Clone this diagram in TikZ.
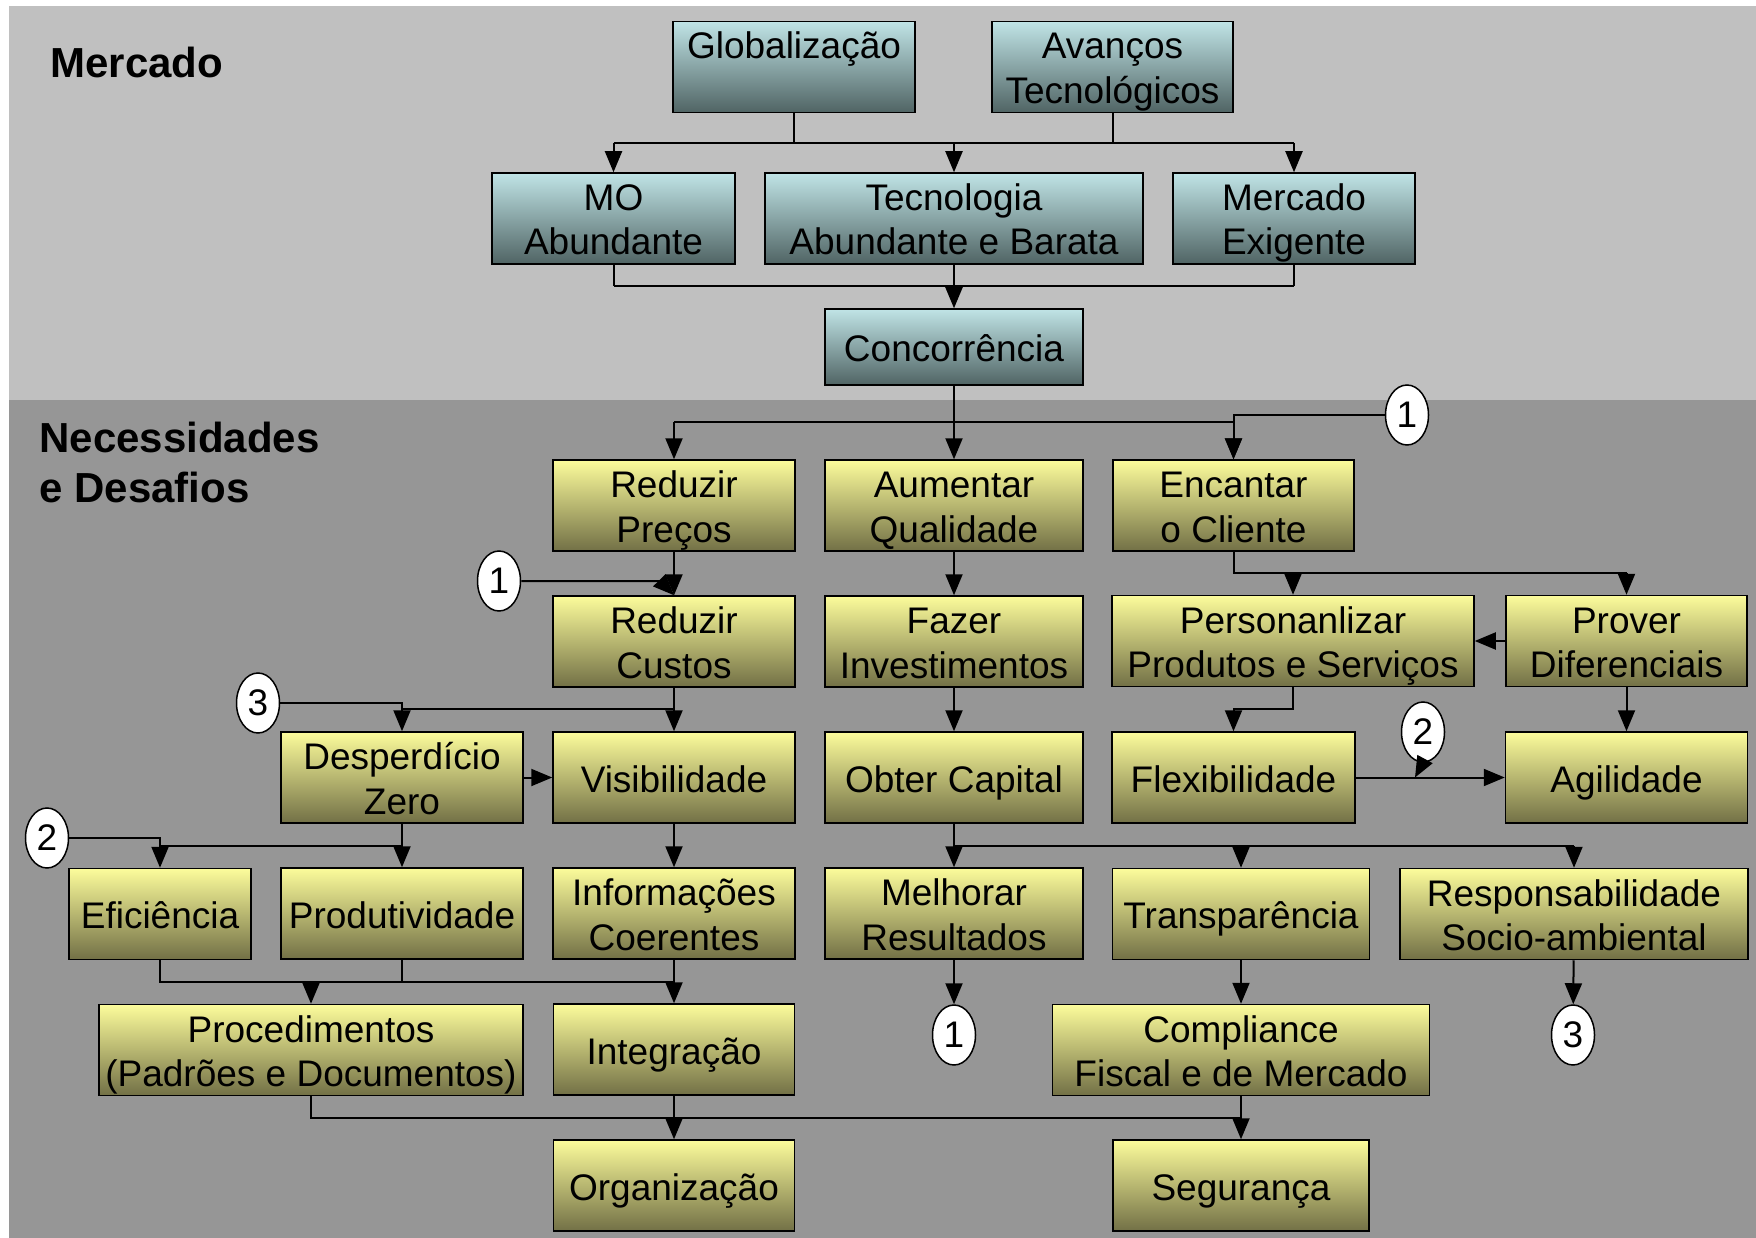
\documentclass[tikz,border=0pt]{standalone}
\usepackage{fontspec}
\setmainfont{Liberation Sans}
\usetikzlibrary{arrows.meta, positioning, shapes.geometric}

\definecolor{mktop}{RGB}{192,192,192}
\definecolor{mkbot}{RGB}{150,150,150}
\definecolor{bluetop}{RGB}{192,228,230}
\definecolor{bluebot}{RGB}{80,100,100}
\definecolor{yeltop}{RGB}{252,252,155}
\definecolor{yelbot}{RGB}{114,112,70}

% two lines of text, evenly placed in a box
\newcommand{\twol}[2]{\rule{0pt}{36.5pt}#1\\#2\rule[-8pt]{0pt}{8pt}}

\tikzset{
  box/.style={draw=black, line width=1.5pt, align=center, inner sep=0pt,
    minimum height=91pt, font=\fontsize{37}{44.5}\selectfont},
  bbox/.style={box, top color=bluetop, bottom color=bluebot},
  ybox/.style={box, top color=yeltop, bottom color=yelbot},
  one/.style={text height=33pt, text depth=3.5pt},
  num/.style={ellipse, draw=black, line width=1.5pt, fill=white, inner sep=0pt,
    minimum width=43pt, minimum height=60pt, font=\fontsize{37}{44.5}\selectfont},
  wire/.style={line width=2pt},
  arr/.style={line width=2pt, -{Triangle[length=21pt,width=17pt]}},
  title/.style={anchor=west, align=left, font=\fontsize{42}{50}\selectfont\bfseries}
}

\begin{document}
\begin{tikzpicture}[x=1pt, y=-1pt]
\useasboundingbox (0,0) rectangle (1756,1238);
\fill[white] (0,0) rectangle (1756,1238);
\fill[mktop] (9,6) rectangle (1756,400);
\fill[mkbot] (9,400) rectangle (1756,1238);

\node [title] (mercado) at (47,62) {Mercado};
\node [title] (necess) at (36,462) {Necessidades\\e Desafios};

% mercado
\node [bbox, minimum width=242pt] (glob) at (794,67) {\twol{Globalização}{\phantom{X}}};
\node [bbox, minimum width=241pt] (avanc) at (1112.5,67) {\twol{Avanços}{Tecnológicos}};
\node [bbox, minimum width=243pt] (mo) at (613.5,218.5) {\twol{MO}{Abundante}};
\node [bbox, minimum width=378pt] (tecno) at (954,218.5) {\twol{Tecnologia}{Abundante e Barata}};
\node [bbox, minimum width=242pt] (mercexig) at (1294,218.5) {\twol{Mercado}{Exigente}};
\node [bbox, one, minimum width=258pt, minimum height=76pt, below=43.5pt of tecno] (concorr) {Concorrência};

% necessidades
\node [ybox, minimum width=242pt] (preco) at (674,505.5) {\twol{Reduzir}{Preços}};
\node [ybox, minimum width=258pt] (qualid) at (954,505.5) {\twol{Aumentar}{Qualidade}};
\node [ybox, minimum width=241pt] (encant) at (1233.5,505.5) {\twol{Encantar}{o Cliente}};
\node [ybox, minimum width=242pt, below=43.5pt of preco] (custos) {\twol{Reduzir}{Custos}};
\node [ybox, minimum width=258pt, below=43.5pt of qualid] (invest) {\twol{Fazer}{Investimentos}};
\node [ybox, minimum width=362pt] (person) at (1293,641) {\twol{Personanlizar}{Produtos e Serviços}};
\node [ybox, minimum width=241pt] (prover) at (1626.5,641) {\twol{Prover}{Diferenciais}};
\node [ybox, one, minimum width=242pt, below=43.5pt of custos] (visib) {Visibilidade};
\node [ybox, minimum width=242pt, left=28.5pt of visib] (desperd) {\twol{Desperdício}{Zero}};
\node [ybox, one, minimum width=258pt, below=43.5pt of invest] (capital) {Obter Capital};
\node [ybox, one, minimum width=243pt] (flex) at (1233.5,777.5) {Flexibilidade};
\node [ybox, one, minimum width=242pt] (agil) at (1626.5,777.5) {Agilidade};
\node [ybox, minimum width=242pt, below=43.5pt of visib] (inform) {\twol{Informações}{Coerentes}};
\node [ybox, one, minimum width=242pt, below=43.5pt of desperd] (produt) {Produtividade};
\node [ybox, one, minimum width=182pt] (efic) at (160,914) {Eficiência};
\node [ybox, minimum width=258pt, below=43.5pt of capital] (melhor) {\twol{Melhorar}{Resultados}};
\node [ybox, one, minimum width=257pt] (transp) at (1241,914) {Transparência};
\node [ybox, minimum width=348pt] (respons) at (1574,914) {\twol{Responsabilidade}{Socio-ambiental}};
\node [ybox, minimum width=424pt] (proced) at (311,1050) {\twol{Procedimentos}{(Padrões e Documentos)}};
\node [ybox, one, minimum width=241pt, below=43.5pt of inform] (integr) {Integração};
\node [ybox, minimum width=377pt] (compl) at (1241,1050) {\twol{Compliance}{Fiscal e de Mercado}};
\node [ybox, one, minimum width=241pt, below=43.5pt of integr] (organ) {Organização};
\node [ybox, one, minimum width=256pt] (segur) at (1241,1185.5) {Segurança};

% circulos
\node [num] (n1a) at (1407,415) {1};
\node [num] (n1b) at (499,581) {1};
\node [num] (n3a) at (258,703) {3};
\node [num] (n2a) at (47,838) {2};
\node [num] (n2b) at (1423,732) {2};
\node [num] (n1c) at (954,1035) {1};
\node [num] (n3b) at (1573,1035) {3};

\coordinate (busA) at (0,143);
\coordinate (busB) at (0,286);
\coordinate (busC) at (0,422);
\coordinate (busD) at (0,573);
\coordinate (busE) at (0,709);
\coordinate (busF) at (0,846);
\coordinate (busG) at (0,982);
\coordinate (busH) at (0,1118);

% mercado
\draw[wire] (glob.south) -- (glob.south |- busA);
\draw[wire] (avanc.south) -- (avanc.south |- busA);
\draw[wire] (mo.north |- busA) -- (mercexig.north |- busA);
\foreach \t in {mo, tecno, mercexig}
  \draw[arr] (\t.north |- busA) -- (\t.north);
\foreach \s in {mo, tecno, mercexig}
  \draw[wire] (\s.south) -- (\s.south |- busB);
\draw[wire] (mo.south |- busB) -- (mercexig.south |- busB);
\draw[arr] (tecno.south |- busB) -- (concorr.north);

% necessidades
\draw[wire] (concorr.south) -- (concorr.south |- busC);
\draw[wire] (preco.north |- busC) -- (encant.north |- busC);
\foreach \t in {preco, qualid, encant}
  \draw[arr] (\t.north |- busC) -- (\t.north);
\draw[arr] (n1a.west) -| (encant.north);

\draw[arr] (preco) -- (custos);
\draw[arr] (n1b.east) -- ([xshift=-14pt]custos.north |- n1b.east) -- (custos.north);
\draw[arr] (qualid) -- (invest);
\draw[wire] (encant.south) -- (encant.south |- busD) -- (prover.north |- busD);
\draw[arr] (person.north |- busD) -- (person.north);
\draw[arr] (prover.north |- busD) -- (prover.north);
\draw[arr] (prover) -- (person);

\draw[wire] (custos.south) -- (custos.south |- busE) -- (desperd.north |- busE);
\draw[arr] (desperd.north |- busE) -- (desperd.north);
\draw[arr] (custos.south |- busE) -- (visib.north);
\draw[wire] (n3a.east) -| (desperd.north |- busE);
\draw[arr] (desperd) -- (visib);
\draw[arr] (invest) -- (capital);
\draw[arr] (person.south) -- (person.south |- busE) -| (flex.north);
\draw[arr] (prover) -- (agil);
\draw[arr] (flex) -- (agil);
\draw[arr] (n2b.south) -- ([xshift=-8pt]n2b.south |- flex.east);

\draw[wire] (desperd.south) -- (desperd.south |- busF) -- (efic.north |- busF);
\draw[arr] (efic.north |- busF) -- (efic.north);
\draw[arr] (desperd.south |- busF) -- (produt.north);
\draw[wire] (n2a.east) -| (efic.north |- busF);
\draw[arr] (visib) -- (inform);
\draw[wire] (capital.south) -- (capital.south |- busF) -- (respons.north |- busF);
\foreach \t in {melhor, transp, respons}
  \draw[arr] (\t.north |- busF) -- (\t.north);

\draw[wire] (efic.south) -- (efic.south |- busG) -- (integr.north |- busG);
\draw[wire] (produt.south) -- (produt.south |- busG);
\draw[arr] (proced.north |- busG) -- (proced.north);
\draw[arr] (inform) -- (integr);
\draw[arr] (melhor) -- (n1c);
\draw[arr] (transp) -- (compl);
\draw[arr] (respons) -- (n3b);

\draw[wire] (proced.south) -- (proced.south |- busH) -- (compl.south |- busH);
\draw[arr] (integr) -- (organ);
\draw[arr] (compl) -- (segur);
\end{tikzpicture}
\end{document}
